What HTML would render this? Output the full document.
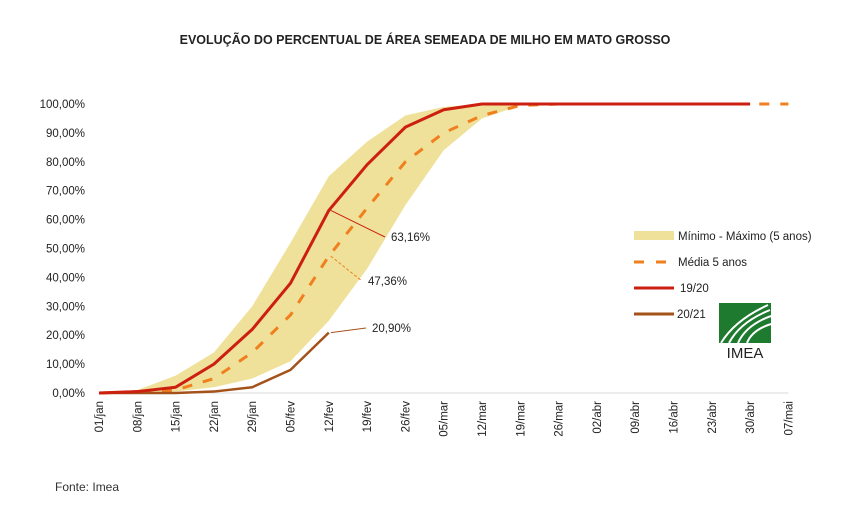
<!DOCTYPE html>
<html><head><meta charset="utf-8"><style>
body{margin:0;background:#fff;width:855px;height:520px;overflow:hidden;font-family:"Liberation Sans",sans-serif;}
</style></head><body>
<svg width="855" height="520" id="svg" font-family="Liberation Sans, sans-serif">
<text x="425" y="44" text-anchor="middle" font-size="12.5" font-weight="bold" fill="#222">EVOLUÇÃO DO PERCENTUAL DE ÁREA SEMEADA DE MILHO EM MATO GROSSO</text>
<text x="55" y="491" font-size="12" fill="#333">Fonte: Imea</text>
<g id="plot"></g>
<g>
<rect x="634" y="231" width="40" height="9" fill="#efe19a"/>
<text x="678" y="240" font-size="11.5" fill="#222">Mínimo - Máximo (5 anos)</text>
<line x1="634" y1="262" x2="674" y2="262" stroke="#f07f1e" stroke-width="3" stroke-dasharray="10,12"/>
<text x="678" y="266" font-size="11.5" fill="#222">Média 5 anos</text>
<line x1="634" y1="288" x2="674" y2="288" stroke="#cc1f10" stroke-width="3"/>
<text x="680" y="292" font-size="11.5" fill="#222">19/20</text>
<line x1="634" y1="314" x2="674" y2="314" stroke="#a5521a" stroke-width="3"/>
<text x="677" y="318" font-size="11.5" fill="#222">20/21</text>
</g>
<g>
<rect x="719" y="303" width="52" height="40" fill="#1d7a2e"/>
<path d="M721 343 Q735 320 768 305 M729 343 Q740 322 770 310 M738 343 Q746 325 771 316 M747 343 Q752 330 771 324" stroke="#fff" stroke-width="2" fill="none"/>
<text x="745" y="358" text-anchor="middle" font-size="15" fill="#222">IMEA</text>
</g>
</svg>
<script>
const categories=["01/jan","08/jan","15/jan","22/jan","29/jan","05/fev","12/fev","19/fev","26/fev","05/mar","12/mar","19/mar","26/mar","02/abr","09/abr","16/abr","23/abr","30/abr","07/mai"];
const minValues=[0,0,0.5,2,5,11,25,43,65,84,95,99.5,100,100,100,100,100,100];
const maxValues=[0,1,6,14,30,52,75,87,96,99,100,100,100,100,100,100,100,100];
const avgValues=[0,0.3,1,5,14,27,47.36,64,80,90,96,99.5,100,100,100,100,100,100,100];
const s1920=[0,0.5,2,10,22,38,63.16,79,92,98,100,100,100,100,100,100,100,100];
const s2021=[0,0,0,0.5,2,8,20.9];
const yTicks=[0,10,20,30,40,50,60,70,80,90,100];
const NS="http://www.w3.org/2000/svg";
const g=document.getElementById('plot');
const x=i=>99+i*38.3;
const y=v=>393-v*2.89;
function mk(t,a){const e=document.createElementNS(NS,t);for(const k in a)e.setAttribute(k,a[k]);g.appendChild(e);return e;}
let d=minValues.map((v,i)=>(i?'L':'M')+x(i)+','+y(maxValues[i])).join('');
for(let i=minValues.length-1;i>=0;i--)d+='L'+x(i)+','+y(minValues[i]);
let band=mk('path',{d:d+'Z',fill:'#efe19a'});


let ax=mk('line',{x1:x(0),y1:393,x2:x(18),y2:393,stroke:'#d9d9d9','stroke-width':1});


yTicks.forEach(v=>{const t=mk('text',{x:85,y:y(v)+4,'text-anchor':'end','font-size':11.5,fill:'#222'});t.textContent=v.toFixed(2).replace('.',',')+'%';

});
categories.forEach((c,i)=>{const t=mk('text',{transform:`translate(${x(i)+4},401) rotate(-90)`,'text-anchor':'end','font-size':11.5,fill:'#222'});t.textContent=c;

});
function line(vals,stroke,w,dash,name){const p=mk('polyline',{points:vals.map((v,i)=>x(i)+','+y(v)).join(' '),fill:'none',stroke:stroke,'stroke-width':w,'stroke-dasharray':dash||'none','stroke-linejoin':'round'});

}
line(avgValues,'#f07f1e',3,'10,11','avg-line');
line(s2021,'#a5521a',2.5,null,'line-2021');
line(s1920,'#cc1f10',3,null,'line-1920');
function ann(i,v,tx,ty,col,dash,name){mk('line',{x1:x(i)+2,y1:y(v),x2:tx-6,y2:ty-4,stroke:col,'stroke-width':1,'stroke-dasharray':dash||'none'});
const t=mk('text',{x:tx,y:ty,'font-size':11.5,fill:'#222'});t.textContent=v.toFixed(2).replace('.',',')+'%';

}
ann(6,s1920[6],391,241,'#cc1f10',null,'label-1920');
ann(6,avgValues[6],368,285,'#f07f1e','3,2','label-avg');
ann(6,s2021[6],372,332,'#a5521a',null,'label-2021');
</script>
</body></html>
